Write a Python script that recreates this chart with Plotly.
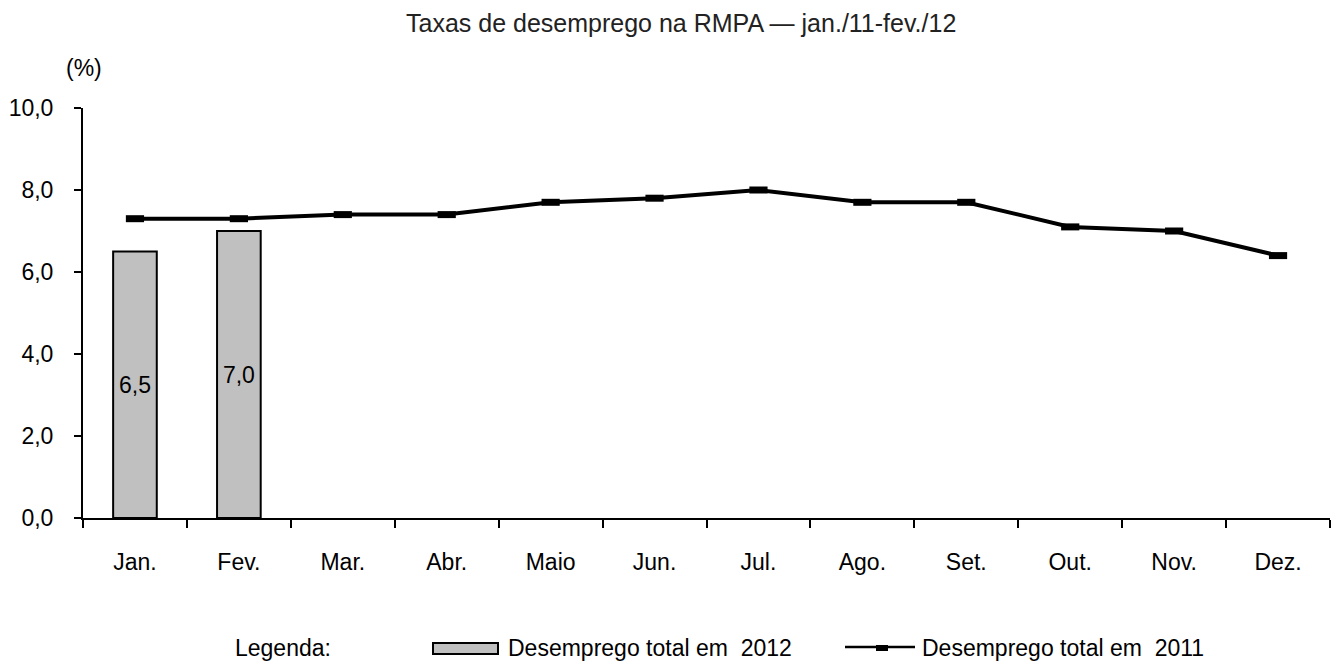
import plotly.graph_objects as go

months = ["Jan.", "Fev.", "Mar.", "Abr.", "Maio", "Jun.", "Jul.", "Ago.", "Set.", "Out.", "Nov.", "Dez."]
rate_2012 = [6.5, 7.0]
rate_2011 = [7.3, 7.3, 7.4, 7.4, 7.7, 7.8, 8.0, 7.7, 7.7, 7.1, 7.0, 6.4]
y_ticks = [0, 2, 4, 6, 8, 10]

W, H = 1335, 663
L, R, T, B = 83, 5, 108, 145
PW, PH = W - L - R, H - T - B
FONT = "Liberation Sans, Arial, sans-serif"
FS = 23


def px(xp):
    return (xp - L) / PW


def py(yp):
    return (H - B - yp) / PH


fig = go.Figure()
fig.add_trace(go.Bar(
    x=months[:len(rate_2012)], y=rate_2012, width=0.42,
    marker=dict(color="#C0C0C0", line=dict(color="black", width=2)),
    text=rate_2012, texttemplate="%{y:.1f}", textposition="inside",
    insidetextanchor="middle", textangle=0,
    textfont=dict(size=FS, color="black", family=FONT),
    name="Desemprego total em 2012", showlegend=False, cliponaxis=False,
))
fig.add_trace(go.Scatter(
    x=months, y=rate_2011, mode="lines+markers",
    line=dict(color="black", width=4),
    marker=dict(symbol="line-ew", size=13, line=dict(color="black", width=7)),
    name="Desemprego total em 2011", showlegend=False, cliponaxis=False,
))

shapes = [
    dict(type="rect", xref="paper", yref="paper", x0=px(433), x1=px(498), y0=py(654), y1=py(643),
         fillcolor="#C0C0C0", line=dict(color="black", width=2)),
    dict(type="line", xref="paper", yref="paper", x0=px(845), x1=px(915), y0=py(647), y1=py(647),
         line=dict(color="black", width=2.5)),
    dict(type="rect", xref="paper", yref="paper", x0=px(876), x1=px(888), y0=py(651), y1=py(645),
         fillcolor="black", line=dict(color="black", width=0)),
]
annotations = [
    dict(text="Taxas de desemprego na RMPA — jan./11-fev./12", xref="paper", yref="paper",
         x=px(681), y=py(23), xanchor="center", yanchor="middle", showarrow=False,
         font=dict(size=25, color="#222", family=FONT)),
    dict(text="(%)", xref="paper", yref="paper", x=px(84), y=py(68), xanchor="center",
         yanchor="middle", showarrow=False, font=dict(size=FS, color="black", family=FONT)),
    dict(text="Legenda:", xref="paper", yref="paper", x=px(233), y=py(648), xanchor="left",
         yanchor="middle", showarrow=False, font=dict(size=FS, color="black", family=FONT)),
    dict(text="Desemprego total em  2012", xref="paper", yref="paper", x=px(506), y=py(648),
         xanchor="left", yanchor="middle", showarrow=False,
         font=dict(size=FS, color="black", family=FONT)),
    dict(text="Desemprego total em  2011", xref="paper", yref="paper", x=px(920), y=py(648),
         xanchor="left", yanchor="middle", showarrow=False,
         font=dict(size=FS, color="black", family=FONT)),
]

fig.update_layout(
    width=W, height=H, margin=dict(l=L, r=R, t=T, b=B, pad=0),
    paper_bgcolor="white", plot_bgcolor="white", separators=",.",
    font=dict(family=FONT, size=FS, color="black"),
    shapes=shapes, annotations=annotations,
    xaxis=dict(type="category", categoryorder="array", categoryarray=months,
               range=[-0.5, len(months) - 0.5], tickson="boundaries", ticks="outside",
               ticklen=8, tickwidth=2, tickcolor="black", showline=True, linecolor="black",
               linewidth=2, showgrid=False, zeroline=False, ticklabelstandoff=22,
               tickfont=dict(size=FS, color="black", family=FONT)),
    yaxis=dict(range=[0, 10], tickvals=y_ticks, tickformat=".1f", ticks="outside",
               ticklen=7, tickwidth=2, tickcolor="black", showline=True, linecolor="black",
               linewidth=2, showgrid=False, zeroline=False, ticklabelstandoff=16,
               tickfont=dict(size=FS, color="black", family=FONT)),
)

fig.write_html("out.html", config={"displayModeBar": False},
               post_script="document.body.style.margin='0px';document.body.style.overflow='hidden';")
